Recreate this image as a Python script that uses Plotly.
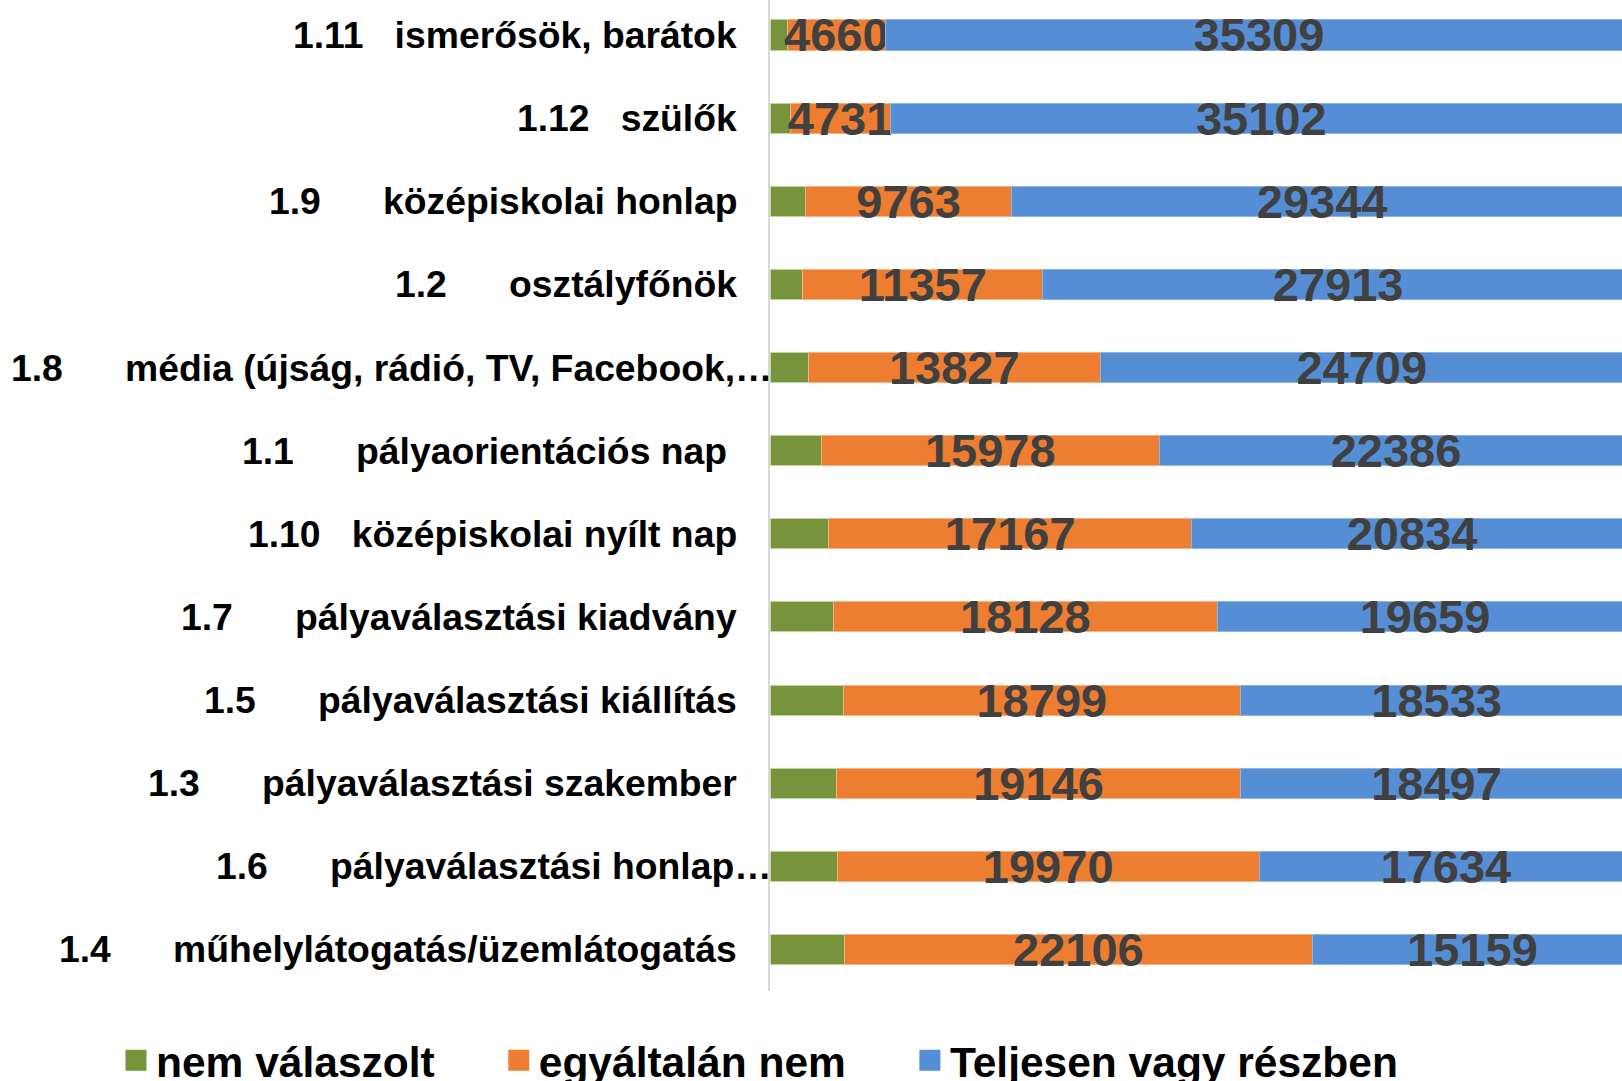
import plotly.graph_objects as go

# categories (top to bottom)
label_nums = ["1.11", "1.12", "1.9", "1.2", "1.8", "1.1", "1.10", "1.7", "1.5", "1.3", "1.6", "1.4"]
label_texts = [
    "ismerősök, barátok",
    "szülők",
    "középiskolai honlap",
    "osztályfőnök",
    "média (újság, rádió, TV, Facebook,…",
    "pályaorientációs nap\u00a0",
    "középiskolai nyílt nap",
    "pályaválasztási kiadvány",
    "pályaválasztási kiállítás",
    "pályaválasztási szakember",
    "pályaválasztási honlap…",
    "műhelylátogatás/üzemlátogatás",
]

# series values
nem_valaszolt = [804, 946, 1671, 1545, 1797, 2427, 2774, 3011, 3452, 3121, 3168, 3527]
egyaltalan_nem = [4660, 4731, 9763, 11357, 13827, 15978, 17167, 18128, 18799, 19146, 19970, 22106]
teljesen_vagy_reszben = [35309, 35102, 29344, 27913, 24709, 22386, 20834, 19659, 18533, 18497, 17634, 15159]

series_names = ["nem válaszolt", "egyáltalán nem", "Teljesen vagy részben"]
colors = ["#77933C", "#ED7D31", "#558ED5"]
edge_colors = ["#C3D69B", "#F4B183", "#8EB4E3"]

FONT = "Liberation Sans, Arial, sans-serif"
NBSP = "\u00a0"

W, H = 1622, 1081
ML, MB = 770, 90
PLOT_W, PLOT_H = W - ML, H - MB

categories = [n + NBSP * (3 if len(n) == 4 else 6) + t for n, t in zip(label_nums, label_texts)]

fig = go.Figure()

values = [nem_valaszolt, egyaltalan_nem, teljesen_vagy_reszben]
for i, (name, vals) in enumerate(zip(series_names, values)):
    fig.add_trace(go.Bar(
        y=categories,
        x=vals,
        orientation="h",
        name=name,
        showlegend=False,
        marker=dict(color=colors[i], line=dict(color=edge_colors[i], width=1)),
        text=None if i == 0 else [str(v) for v in vals],
        textposition="inside" if i > 0 else "none",
        insidetextanchor="middle",
        constraintext="none",
        textangle=0,
        textfont=dict(family=FONT, size=47, color="#404040", weight="bold"),
        hoverinfo="skip",
    ))

# legend-only entries (larger square symbols)
for i, name in enumerate(series_names):
    fig.add_trace(go.Scatter(
        y=[None],
        x=[None],
        mode="markers",
        name=name + (NBSP * 5 if i < 2 else ""),
        showlegend=True,
        marker=dict(symbol="square", size=16, color=colors[i],
                    line=dict(color=colors[i], width=5)),
        hoverinfo="skip",
    ))

annotations = []
for cat, t in zip(categories, label_texts):
    annotations.append(dict(
        x=0, y=cat, xref="x", yref="y",
        text=cat, showarrow=False,
        xanchor="right", yanchor="middle",
        xshift=4 if t.endswith("…") else -31,
        font=dict(family=FONT, size=37.3, color="#000000", weight="bold"),
    ))

fig.update_layout(
    barmode="stack",
    bargap=0.639,
    width=W,
    height=H,
    margin=dict(l=ML, r=0, t=0, b=MB, autoexpand=False),
    plot_bgcolor="white",
    paper_bgcolor="white",
    font=dict(family=FONT),
    showlegend=True,
    hovermode=False,
    legend=dict(
        orientation="h",
        xref="paper", yref="paper",
        x=(116 - ML) / PLOT_W, xanchor="left",
        y=-(1060.5 - PLOT_H) / PLOT_H, yanchor="middle",
        font=dict(family=FONT, size=42.5, color="#000000", weight="bold"),
        bgcolor="rgba(0,0,0,0)",
        traceorder="normal",
        itemsizing="trace",
    ),
    xaxis=dict(range=[0, 40284], visible=False, showgrid=False, zeroline=False),
    yaxis=dict(
        type="category",
        categoryorder="array",
        categoryarray=categories,
        range=[11.50, -0.421],
        showticklabels=False,
        ticks="",
        showgrid=False,
        zeroline=False,
        showline=True,
        linecolor="#D9D9D9",
        linewidth=2,
    ),
    annotations=annotations,
)

fig.write_html(
    "out.html",
    config={"displayModeBar": False, "staticPlot": True},
    post_script="document.body.style.margin='0';document.body.style.overflow='hidden';",
)
